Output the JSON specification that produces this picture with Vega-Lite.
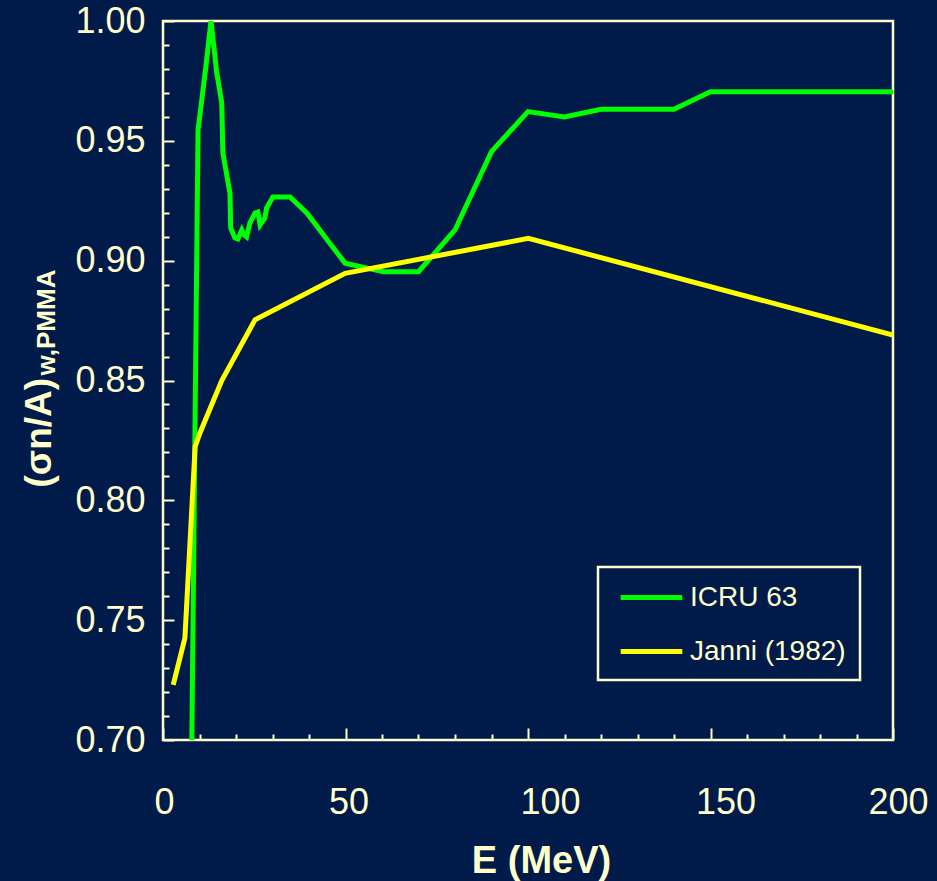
{
  "$schema": "https://vega.github.io/schema/vega-lite/v6.json",
  "width": 730,
  "height": 719,
  "autosize": {"type": "none"},
  "padding": {"left": 163, "top": 21, "right": 44, "bottom": 141},
  "background": "#001a4a",
  "config": {
    "view": {"stroke": "#ffffcc", "strokeWidth": 2.5, "fill": null},
    "font": "Liberation Sans",
    "legend": {"strokeWidth": 2.5}
  },
  "data": {
    "values": [
      {"series": "ICRU 63", "E": 7.9, "v": 0.700},
      {"series": "ICRU 63", "E": 9.6, "v": 0.9545},
      {"series": "ICRU 63", "E": 11.8, "v": 0.9816},
      {"series": "ICRU 63", "E": 13.15, "v": 1.000},
      {"series": "ICRU 63", "E": 14.7, "v": 0.9787},
      {"series": "ICRU 63", "E": 16.1, "v": 0.9658},
      {"series": "ICRU 63", "E": 16.4, "v": 0.945},
      {"series": "ICRU 63", "E": 18.36, "v": 0.928},
      {"series": "ICRU 63", "E": 18.55, "v": 0.9136},
      {"series": "ICRU 63", "E": 19.7, "v": 0.9095},
      {"series": "ICRU 63", "E": 20.5, "v": 0.909},
      {"series": "ICRU 63", "E": 21.6, "v": 0.9128},
      {"series": "ICRU 63", "E": 22.2, "v": 0.9107},
      {"series": "ICRU 63", "E": 22.9, "v": 0.9099},
      {"series": "ICRU 63", "E": 23.8, "v": 0.9157},
      {"series": "ICRU 63", "E": 25.2, "v": 0.9199},
      {"series": "ICRU 63", "E": 26.0, "v": 0.9203},
      {"series": "ICRU 63", "E": 26.6, "v": 0.9149},
      {"series": "ICRU 63", "E": 27.9, "v": 0.9178},
      {"series": "ICRU 63", "E": 28.4, "v": 0.922},
      {"series": "ICRU 63", "E": 30.1, "v": 0.9266},
      {"series": "ICRU 63", "E": 34.8, "v": 0.9266},
      {"series": "ICRU 63", "E": 39.4, "v": 0.9199},
      {"series": "ICRU 63", "E": 49.9, "v": 0.8989},
      {"series": "ICRU 63", "E": 60.4, "v": 0.8954},
      {"series": "ICRU 63", "E": 70, "v": 0.8954},
      {"series": "ICRU 63", "E": 80, "v": 0.9128},
      {"series": "ICRU 63", "E": 90, "v": 0.9455},
      {"series": "ICRU 63", "E": 100, "v": 0.9622},
      {"series": "ICRU 63", "E": 110, "v": 0.960},
      {"series": "ICRU 63", "E": 120, "v": 0.9632},
      {"series": "ICRU 63", "E": 140, "v": 0.9632},
      {"series": "ICRU 63", "E": 150, "v": 0.9705},
      {"series": "ICRU 63", "E": 200, "v": 0.9705},
      {"series": "Janni (1982)", "E": 2.8, "v": 0.7230},
      {"series": "Janni (1982)", "E": 6.0, "v": 0.7425},
      {"series": "Janni (1982)", "E": 8.8, "v": 0.8224},
      {"series": "Janni (1982)", "E": 10.1, "v": 0.828},
      {"series": "Janni (1982)", "E": 16.1, "v": 0.850},
      {"series": "Janni (1982)", "E": 25.2, "v": 0.8753},
      {"series": "Janni (1982)", "E": 49.9, "v": 0.8947},
      {"series": "Janni (1982)", "E": 100.1, "v": 0.9093},
      {"series": "Janni (1982)", "E": 200, "v": 0.869}
    ]
  },
  "encoding": {
    "x": {
      "field": "E",
      "type": "quantitative",
      "scale": {"domain": [0, 200], "nice": false},
      "axis": {
        "values": [0, 10, 20, 30, 40, 50, 60, 70, 80, 90, 100, 110, 120, 130, 140, 150, 160, 170, 180, 190, 200],
        "labelExpr": "datum.value % 50 === 0 ? format(datum.value, 'd') : ''",
        "labelFlush": false,
        "labelOverlap": false,
        "labelFontSize": 36,
        "labelColor": "#ffffcc",
        "labelFont": "Liberation Sans",
        "labelPadding": 57,
        "labelOffset": {
          "condition": [
            {"test": "datum.value === 100", "value": 22},
            {"test": "datum.value === 150", "value": 15},
            {"test": "datum.value === 200", "value": 5},
            {"test": "datum.value === 50", "value": 3}
          ],
          "value": 1
        },
        "domain": false,
        "grid": false,
        "tickColor": "#ffffcc",
        "tickWidth": 2,
        "tickSize": {"condition": {"test": "datum.value % 50 === 0", "value": -12}, "value": -6},
        "title": "E (MeV)",
        "titleFont": "Liberation Sans",
        "titleFontSize": 38,
        "titleFontWeight": "bold",
        "titleColor": "#ffffcc",
        "titleX": 378,
        "titleY": 132,
        "titleBaseline": "alphabetic"
      }
    },
    "color": {
      "field": "series",
      "type": "nominal",
      "scale": {"domain": ["ICRU 63", "Janni (1982)"], "range": ["#00ff00", "#ffff00"]},
      "legend": {
        "orient": "none",
        "legendX": 435,
        "legendY": 546,
        "title": null,
        "strokeColor": "#ffffcc",
        "padding": 14,
        "symbolType": "M-2.2,0H2.2",
        "symbolSize": 784,
        "symbolStrokeWidth": 5,
        "symbolOffset": 23,
        "labelOffset": 22,
        "labelFontSize": 28,
        "labelColor": "#ffffcc",
        "labelFont": "Liberation Sans",
        "rowPadding": 23
      }
    }
  },
  "layer": [
    {
      "transform": [{"filter": "datum.series === 'ICRU 63'"}],
      "mark": {"type": "line", "strokeWidth": 5, "clip": true, "strokeJoin": "miter"},
      "encoding": {
        "y": {
          "field": "v",
          "type": "quantitative",
          "scale": {"domain": [0.7, 1.0], "nice": false, "zero": false},
          "axis": {
            "orient": "left",
            "values": [0.70, 0.71, 0.72, 0.73, 0.74, 0.75, 0.76, 0.77, 0.78, 0.79, 0.80, 0.81, 0.82, 0.83, 0.84, 0.85, 0.86, 0.87, 0.88, 0.89, 0.90, 0.91, 0.92, 0.93, 0.94, 0.95, 0.96, 0.97, 0.98, 0.99, 1.00],
            "labelExpr": "round(datum.value * 100) % 5 === 0 ? format(datum.value, '.2f') : ''",
            "labelOverlap": false,
            "labelFlush": false,
            "labelFontSize": 36,
            "labelColor": "#ffffcc",
            "labelFont": "Liberation Sans",
            "labelPadding": 29,
            "domain": false,
            "grid": false,
            "tickColor": "#ffffcc",
            "tickWidth": 2,
            "tickSize": {"condition": {"test": "round(datum.value * 100) % 5 === 0", "value": -11}, "value": -6},
            "title": "(σn/A)",
            "titleFont": "Liberation Sans",
            "titleFontSize": 37,
            "titleFontWeight": "bold",
            "titleColor": "#ffffcc",
            "titleAngle": -90,
            "titleAlign": "left",
            "titleBaseline": "alphabetic",
            "titleX": -113,
            "titleY": 466
          }
        }
      }
    },
    {
      "transform": [{"filter": "datum.series === 'Janni (1982)'"}],
      "mark": {"type": "line", "strokeWidth": 5, "clip": true, "strokeJoin": "miter"},
      "encoding": {
        "y": {
          "field": "v",
          "type": "quantitative",
          "axis": {
            "orient": "left",
            "labels": false,
            "ticks": false,
            "domain": false,
            "grid": false,
            "title": "w,PMMA",
            "titleFont": "Liberation Sans",
            "titleFontSize": 26,
            "titleFontWeight": "bold",
            "titleColor": "#ffffcc",
            "titleAngle": -90,
            "titleAlign": "left",
            "titleBaseline": "alphabetic",
            "titleX": -109,
            "titleY": 354
          }
        }
      }
    }
  ],
  "resolve": {"axis": {"y": "independent"}}
}
